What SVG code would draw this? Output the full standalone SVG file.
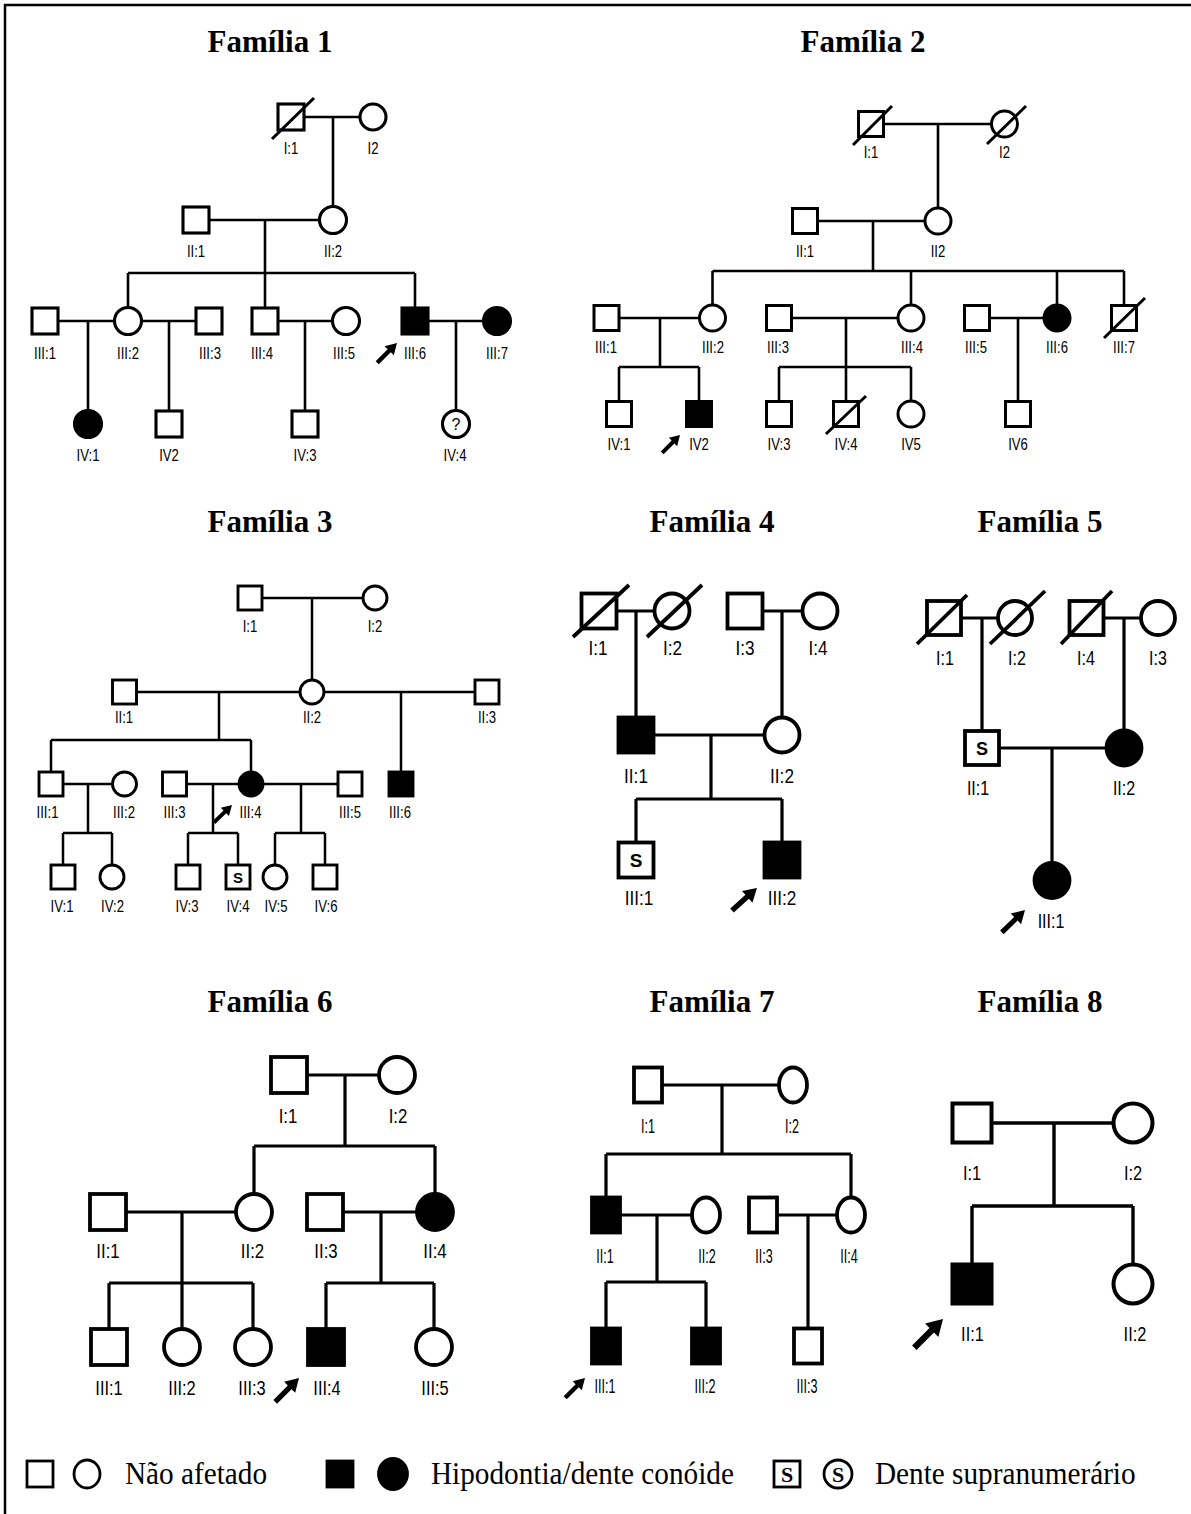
<svg xmlns="http://www.w3.org/2000/svg" width="1191" height="1514" viewBox="0 0 1191 1514">
<defs>
<style>
  .nd{fill:#fff;stroke:#000}
  .af{fill:#000;stroke:#000}
  .dl{stroke:#000;fill:none}
  #connectors path{fill:none;stroke:#000}
  .t{font-family:"Liberation Serif","Times New Roman",serif;font-weight:bold;font-size:31px;text-anchor:middle;fill:#000}
  .lb{font-family:"Liberation Sans",Arial,sans-serif;text-anchor:middle;fill:#000}
  .a{font-size:16px}
  .b{font-size:19.5px}
  .c{font-size:20px}
  .d{font-size:21px}
  .mk{font-family:"Liberation Sans",Arial,sans-serif;font-weight:bold;text-anchor:middle;fill:#000}
  .lg{font-family:"Liberation Serif","Times New Roman",serif;font-size:32.5px;fill:#000}
  .ls{font-family:"Liberation Serif","Times New Roman",serif;font-weight:bold;font-size:22px;text-anchor:middle;fill:#000}
</style>
<path id="arw" d="M0,0 L-11,-6.5 L-11,-2.2 L-28,-2.2 L-28,2.2 L-11,2.2 L-11,6.5 Z" fill="#000"/>
</defs>
<rect width="1191" height="1514" fill="#fff"/>
<!-- frame -->
<path d="M5,1514 V5 H1191" fill="none" stroke="#000" stroke-width="2.5"/>

<!-- titles -->
<g id="titles">
  <text class="t" x="270" y="52">Família 1</text>
  <text class="t" x="863" y="52">Família 2</text>
  <text class="t" x="270" y="532">Família 3</text>
  <text class="t" x="712" y="532">Família 4</text>
  <text class="t" x="1040" y="532">Família 5</text>
  <text class="t" x="270" y="1012">Família 6</text>
  <text class="t" x="712" y="1012">Família 7</text>
  <text class="t" x="1040" y="1012">Família 8</text>
</g>

<!-- connectors: marriage lines, descent lines, sibship bars -->
<g id="connectors">
  <path stroke-width="2.6" d="M304,117H360 M333,117V206.5 M209,220H319.5 M265,220V273 M128,273H415 M128,273V307.5 M265,273V308 M415,273V308 M58,321H114.5 M88,321V410.5 M141.5,321H196 M169,321V411 M278,321H332.5 M305,321V411 M428,321H483.5 M456,321V410.5"/>
  <path stroke-width="2.6" d="M883.5,124H991.5 M938,124V208 M817.5,221H925 M873,221V271 M712.5,271H1124 M712.5,271V305 M911,271V305 M1057,271V305 M1124,271V305.5 M619,318H699.5 M660,318V367 M619,367H699 M619,367V401.5 M699,367V401.5 M791.5,318H898 M846,318V401.5 M779,367H911 M779,367V401.5 M911,367V401 M989.5,318H1044 M1018,318V401.5"/>
  <path stroke-width="2.5" d="M262,598H363 M312,598V680 M136.5,692H300 M219,692V740 M324,692H475 M401,692V772 M51,740H251 M51,740V772 M251,740V772 M63,784H112.5 M88,784V833 M63,833H112 M63,833V865 M112,833V865 M186.5,784H239 M213,784V833 M188,833H238 M188,833V865 M238,833V865 M263,784H338 M301,784V833 M275,833H325 M275,833V865 M325,833V865"/>
  <path stroke-width="3.2" d="M616.5,611H654.5 M636,611V717.5 M762.5,611H802.5 M782,611V717.5 M653.5,735H764.5 M711,735V799 M636,799H782 M636,799V842.5 M782,799V842.5"/>
  <path stroke-width="3.2" d="M961,618H998 M982,618V731 M1103.5,618H1141 M1124,618V730.5 M999,748H1106.5 M1052,748V863"/>
  <path stroke-width="3.2" d="M307,1075H379 M345,1075V1146 M254,1146H435 M254,1146V1194 M435,1146V1194 M126,1212H236 M182,1212V1329 M109,1283H253 M109,1283V1329 M253,1283V1329 M343,1212H417 M381,1212V1283 M326,1283H434 M326,1283V1329 M434,1283V1329"/>
  <path stroke-width="3.2" d="M662,1085H779 M722,1085V1154 M606,1154H851 M606,1154V1197.5 M851,1154V1197.5 M620,1215H692 M657,1215V1282 M606,1282H706 M606,1282V1328.5 M706,1282V1328.5 M777,1215H837 M808,1215V1328.5"/>
  <path stroke-width="3.4" d="M991.5,1123H1113.5 M1054,1123V1206 M972,1206H1133 M972,1206V1264.5 M1133,1206V1264.5"/>
</g>

<!-- Família 1 -->
<g id="fam1" stroke-width="3.1">
  <g id="f1-I1"><rect class="nd" x="278" y="104" width="26" height="26"/><line class="dl" x1="272" y1="139" x2="314" y2="98"/><text class="lb a" transform="translate(291 154) scale(.82 1)">I:1</text></g>
  <g id="f1-I2"><circle class="nd" cx="373" cy="117" r="13"/><text class="lb a" transform="translate(373 154) scale(.82 1)">I2</text></g>
  <g id="f1-II1"><rect class="nd" x="183" y="207" width="26" height="26"/><text class="lb a" transform="translate(196 257) scale(.82 1)">II:1</text></g>
  <g id="f1-II2"><circle class="nd" cx="333" cy="220" r="13.5"/><text class="lb a" transform="translate(333 257) scale(.82 1)">II:2</text></g>
  <g id="f1-III1"><rect class="nd" x="32" y="308" width="26" height="26"/><text class="lb a" transform="translate(45 359) scale(.82 1)">III:1</text></g>
  <g id="f1-III2"><circle class="nd" cx="128" cy="321" r="13.5"/><text class="lb a" transform="translate(128 359) scale(.82 1)">III:2</text></g>
  <g id="f1-III3"><rect class="nd" x="196" y="308" width="26" height="26"/><text class="lb a" transform="translate(210 359) scale(.82 1)">III:3</text></g>
  <g id="f1-III4"><rect class="nd" x="252" y="308" width="26" height="26"/><text class="lb a" transform="translate(262 359) scale(.82 1)">III:4</text></g>
  <g id="f1-III5"><circle class="nd" cx="346" cy="321" r="13.5"/><text class="lb a" transform="translate(344 359) scale(.82 1)">III:5</text></g>
  <g id="f1-III6"><rect class="af" x="402" y="308" width="26" height="26"/><text class="lb a" transform="translate(415 359) scale(.82 1)">III:6</text><use href="#arw" transform="translate(397 343) rotate(-45)"/></g>
  <g id="f1-III7"><circle class="af" cx="497" cy="321" r="13.5"/><text class="lb a" transform="translate(497 359) scale(.82 1)">III:7</text></g>
  <g id="f1-IV1"><circle class="af" cx="88" cy="424" r="13.5"/><text class="lb a" transform="translate(88 461) scale(.82 1)">IV:1</text></g>
  <g id="f1-IV2"><rect class="nd" x="156" y="411" width="26" height="26"/><text class="lb a" transform="translate(169 461) scale(.82 1)">IV2</text></g>
  <g id="f1-IV3"><rect class="nd" x="292" y="411" width="26" height="26"/><text class="lb a" transform="translate(305 461) scale(.82 1)">IV:3</text></g>
  <g id="f1-IV4"><circle class="nd" cx="456" cy="424" r="13.5"/><text class="lb" x="456" y="430" font-size="16">?</text><text class="lb a" transform="translate(455 461) scale(.82 1)">IV:4</text></g>
</g>

<!-- Família 2 -->
<g id="fam2" stroke-width="3">
  <g id="f2-I1"><rect class="nd" x="858.5" y="111.5" width="25" height="25"/><line class="dl" x1="853" y1="145" x2="892" y2="106"/><text class="lb a" transform="translate(871 158) scale(.82 1)">I:1</text></g>
  <g id="f2-I2"><circle class="nd" cx="1004.5" cy="124" r="13"/><line class="dl" x1="987" y1="144" x2="1026" y2="106"/><text class="lb a" transform="translate(1004.5 158) scale(.82 1)">I2</text></g>
  <g id="f2-II1"><rect class="nd" x="792.5" y="208.5" width="25" height="25"/><text class="lb a" transform="translate(805 257) scale(.82 1)">II:1</text></g>
  <g id="f2-II2"><circle class="nd" cx="938" cy="221" r="13"/><text class="lb a" transform="translate(938 257) scale(.82 1)">II2</text></g>
  <g id="f2-III1"><rect class="nd" x="594" y="305.5" width="25" height="25"/><text class="lb a" transform="translate(606 353) scale(.82 1)">III:1</text></g>
  <g id="f2-III2"><circle class="nd" cx="712.5" cy="318" r="13"/><text class="lb a" transform="translate(713 353) scale(.82 1)">III:2</text></g>
  <g id="f2-III3"><rect class="nd" x="766.5" y="305.5" width="25" height="25"/><text class="lb a" transform="translate(778 353) scale(.82 1)">III:3</text></g>
  <g id="f2-III4"><circle class="nd" cx="911" cy="318" r="13"/><text class="lb a" transform="translate(912 353) scale(.82 1)">III:4</text></g>
  <g id="f2-III5"><rect class="nd" x="964.5" y="305.5" width="25" height="25"/><text class="lb a" transform="translate(976 353) scale(.82 1)">III:5</text></g>
  <g id="f2-III6"><circle class="af" cx="1057" cy="318" r="13"/><text class="lb a" transform="translate(1057 353) scale(.82 1)">III:6</text></g>
  <g id="f2-III7"><rect class="nd" x="1111.5" y="305.5" width="25" height="25"/><line class="dl" x1="1104" y1="338" x2="1145" y2="298"/><text class="lb a" transform="translate(1124 353) scale(.82 1)">III:7</text></g>
  <g id="f2-IV1"><rect class="nd" x="606.5" y="401.5" width="25" height="25"/><text class="lb a" transform="translate(619 450) scale(.82 1)">IV:1</text></g>
  <g id="f2-IV2"><rect class="af" x="686.5" y="401.5" width="25" height="25"/><text class="lb a" transform="translate(699 450) scale(.82 1)">IV2</text><use href="#arw" transform="translate(680 435) rotate(-45) scale(.9)"/></g>
  <g id="f2-IV3"><rect class="nd" x="766.5" y="401.5" width="25" height="25"/><text class="lb a" transform="translate(779 450) scale(.82 1)">IV:3</text></g>
  <g id="f2-IV4"><rect class="nd" x="833.5" y="401.5" width="25" height="25"/><line class="dl" x1="826" y1="434" x2="866" y2="396"/><text class="lb a" transform="translate(846 450) scale(.82 1)">IV:4</text></g>
  <g id="f2-IV5"><circle class="nd" cx="911" cy="414" r="13"/><text class="lb a" transform="translate(911 450) scale(.82 1)">IV5</text></g>
  <g id="f2-IV6"><rect class="nd" x="1005.5" y="401.5" width="25" height="25"/><text class="lb a" transform="translate(1018 450) scale(.82 1)">IV6</text></g>
</g>

<!-- Família 3 -->
<g id="fam3" stroke-width="2.9">
  <g id="f3-I1"><rect class="nd" x="238" y="586" width="24" height="24"/><text class="lb a" transform="translate(250 632) scale(.82 1)">I:1</text></g>
  <g id="f3-I2"><circle class="nd" cx="375" cy="598" r="12"/><text class="lb a" transform="translate(375 632) scale(.82 1)">I:2</text></g>
  <g id="f3-II1"><rect class="nd" x="112.5" y="680" width="24" height="24"/><text class="lb a" transform="translate(124 723) scale(.82 1)">II:1</text></g>
  <g id="f3-II2"><circle class="nd" cx="312" cy="692" r="12"/><text class="lb a" transform="translate(312 723) scale(.82 1)">II:2</text></g>
  <g id="f3-II3"><rect class="nd" x="475" y="680" width="24" height="24"/><text class="lb a" transform="translate(487 723) scale(.82 1)">II:3</text></g>
  <g id="f3-III1"><rect class="nd" x="39" y="772" width="24" height="24"/><text class="lb a" transform="translate(47.5 818) scale(.82 1)">III:1</text></g>
  <g id="f3-III2"><circle class="nd" cx="124.5" cy="784" r="12"/><text class="lb a" transform="translate(124 818) scale(.82 1)">III:2</text></g>
  <g id="f3-III3"><rect class="nd" x="162.5" y="772" width="24" height="24"/><text class="lb a" transform="translate(174.5 818) scale(.82 1)">III:3</text></g>
  <g id="f3-III4"><circle class="af" cx="251" cy="784" r="12"/><text class="lb a" transform="translate(250.5 818) scale(.82 1)">III:4</text><use href="#arw" transform="translate(232 805) rotate(-44) scale(.9)"/></g>
  <g id="f3-III5"><rect class="nd" x="338" y="772" width="24" height="24"/><text class="lb a" transform="translate(350 818) scale(.82 1)">III:5</text></g>
  <g id="f3-III6"><rect class="af" x="389" y="772" width="24" height="24"/><text class="lb a" transform="translate(400 818) scale(.82 1)">III:6</text></g>
  <g id="f3-IV1"><rect class="nd" x="51" y="865" width="24" height="24"/><text class="lb a" transform="translate(62 912) scale(.82 1)">IV:1</text></g>
  <g id="f3-IV2"><circle class="nd" cx="112" cy="877" r="12"/><text class="lb a" transform="translate(112.5 912) scale(.82 1)">IV:2</text></g>
  <g id="f3-IV3"><rect class="nd" x="176" y="865" width="24" height="24"/><text class="lb a" transform="translate(187 912) scale(.82 1)">IV:3</text></g>
  <g id="f3-IV4"><rect class="nd" x="226" y="865" width="24" height="24"/><text class="mk" x="238" y="882.5" font-size="15">S</text><text class="lb a" transform="translate(238 912) scale(.82 1)">IV:4</text></g>
  <g id="f3-IV5"><circle class="nd" cx="275" cy="877" r="12"/><text class="lb a" transform="translate(276 912) scale(.82 1)">IV:5</text></g>
  <g id="f3-IV6"><rect class="nd" x="313" y="865" width="24" height="24"/><text class="lb a" transform="translate(326 912) scale(.82 1)">IV:6</text></g>
</g>

<!-- Família 4 -->
<g id="fam4" stroke-width="3.8">
  <g id="f4-I1"><rect class="nd" x="581.5" y="593.5" width="35" height="35"/><line class="dl" x1="573" y1="637" x2="629" y2="585"/><text class="lb b" transform="translate(598 655) scale(.88 1)">I:1</text></g>
  <g id="f4-I2"><circle class="nd" cx="672" cy="611" r="17.5"/><line class="dl" x1="647" y1="637" x2="702" y2="585"/><text class="lb b" transform="translate(672.5 655) scale(.88 1)">I:2</text></g>
  <g id="f4-I3"><rect class="nd" x="727.5" y="593.5" width="35" height="35"/><text class="lb b" transform="translate(745 655) scale(.88 1)">I:3</text></g>
  <g id="f4-I4"><circle class="nd" cx="820" cy="611" r="17.5"/><text class="lb b" transform="translate(818 655) scale(.88 1)">I:4</text></g>
  <g id="f4-II1"><rect class="af" x="618.5" y="717.5" width="35" height="35"/><text class="lb b" transform="translate(636 783) scale(.88 1)">II:1</text></g>
  <g id="f4-II2"><circle class="nd" cx="782" cy="735" r="17.5"/><text class="lb b" transform="translate(782 783) scale(.88 1)">II:2</text></g>
  <g id="f4-III1"><rect class="nd" x="618.5" y="842.5" width="35" height="35"/><text class="mk" x="636" y="867" font-size="19">S</text><text class="lb b" transform="translate(639 905) scale(.88 1)">III:1</text></g>
  <g id="f4-III2"><rect class="af" x="764.5" y="842.5" width="35" height="35"/><text class="lb b" transform="translate(782 905) scale(.88 1)">III:2</text><use href="#arw" transform="translate(757 888) rotate(-42) scale(1.2)"/></g>
</g>

<!-- Família 5 -->
<g id="fam5" stroke-width="3.8">
  <g id="f5-I1"><rect class="nd" x="927" y="601" width="34" height="34"/><line class="dl" x1="917" y1="644" x2="967" y2="595"/><text class="lb c" transform="translate(945 665) scale(.8 1)">I:1</text></g>
  <g id="f5-I2"><circle class="nd" cx="1015" cy="618" r="17"/><line class="dl" x1="990" y1="644" x2="1045" y2="591"/><text class="lb c" transform="translate(1017 665) scale(.8 1)">I:2</text></g>
  <g id="f5-I4"><rect class="nd" x="1069.5" y="601" width="34" height="34"/><line class="dl" x1="1061" y1="644" x2="1112" y2="591"/><text class="lb c" transform="translate(1086 665) scale(.8 1)">I:4</text></g>
  <g id="f5-I3"><circle class="nd" cx="1158" cy="618" r="17"/><text class="lb c" transform="translate(1158 665) scale(.8 1)">I:3</text></g>
  <g id="f5-II1"><rect class="nd" x="965" y="731" width="34" height="34"/><text class="mk" x="982" y="755" font-size="18">S</text><text class="lb c" transform="translate(978 795) scale(.8 1)">II:1</text></g>
  <g id="f5-II2"><circle class="af" cx="1124" cy="748" r="17.5"/><text class="lb c" transform="translate(1124 795) scale(.8 1)">II:2</text></g>
  <g id="f5-III1"><circle class="af" cx="1052" cy="880.5" r="17.5"/><text class="lb c" transform="translate(1051 928) scale(.8 1)">III:1</text><use href="#arw" transform="translate(1025 910) rotate(-44) scale(1.15)"/></g>
</g>

<!-- Família 6 -->
<g id="fam6" stroke-width="3.8">
  <g id="f6-I1"><rect class="nd" x="271" y="1057" width="36" height="36"/><text class="lb d" transform="translate(288 1123) scale(.8 1)">I:1</text></g>
  <g id="f6-I2"><circle class="nd" cx="397" cy="1075" r="18"/><text class="lb d" transform="translate(398 1123) scale(.8 1)">I:2</text></g>
  <g id="f6-II1"><rect class="nd" x="90" y="1194" width="36" height="36"/><text class="lb d" transform="translate(108 1258) scale(.8 1)">II:1</text></g>
  <g id="f6-II2"><circle class="nd" cx="254" cy="1212" r="18"/><text class="lb d" transform="translate(252.5 1258) scale(.8 1)">II:2</text></g>
  <g id="f6-II3"><rect class="nd" x="307" y="1194" width="36" height="36"/><text class="lb d" transform="translate(326 1258) scale(.8 1)">II:3</text></g>
  <g id="f6-II4"><circle class="af" cx="435" cy="1212" r="18"/><text class="lb d" transform="translate(435 1258) scale(.8 1)">II:4</text></g>
  <g id="f6-III1"><rect class="nd" x="91" y="1329" width="36" height="36"/><text class="lb d" transform="translate(109 1395) scale(.78 1)">III:1</text></g>
  <g id="f6-III2"><circle class="nd" cx="182" cy="1347" r="18"/><text class="lb d" transform="translate(182 1395) scale(.78 1)">III:2</text></g>
  <g id="f6-III3"><circle class="nd" cx="253" cy="1347" r="18"/><text class="lb d" transform="translate(252 1395) scale(.78 1)">III:3</text></g>
  <g id="f6-III4"><rect class="af" x="308" y="1329" width="36" height="36"/><text class="lb d" transform="translate(327 1395) scale(.78 1)">III:4</text><use href="#arw" transform="translate(299 1378) rotate(-45) scale(1.2)"/></g>
  <g id="f6-III5"><circle class="nd" cx="434" cy="1347" r="18"/><text class="lb d" transform="translate(435 1395) scale(.78 1)">III:5</text></g>
</g>

<!-- Família 7 -->
<g id="fam7" stroke-width="3.8">
  <g id="f7-I1"><rect class="nd" x="634" y="1067.5" width="28" height="35"/><text class="lb d" transform="translate(648 1133) scale(.6 1)">I:1</text></g>
  <g id="f7-I2"><ellipse class="nd" cx="793" cy="1085" rx="14" ry="17.5"/><text class="lb d" transform="translate(792 1133) scale(.6 1)">I:2</text></g>
  <g id="f7-II1"><rect class="af" x="592" y="1197.5" width="28" height="35"/><text class="lb d" transform="translate(605 1263) scale(.6 1)">II:1</text></g>
  <g id="f7-II2"><ellipse class="nd" cx="706" cy="1215" rx="14" ry="17.5"/><text class="lb d" transform="translate(707 1263) scale(.6 1)">II:2</text></g>
  <g id="f7-II3"><rect class="nd" x="749" y="1197.5" width="28" height="35"/><text class="lb d" transform="translate(764 1263) scale(.6 1)">II:3</text></g>
  <g id="f7-II4"><ellipse class="nd" cx="851" cy="1215" rx="14" ry="17.5"/><text class="lb d" transform="translate(849 1263) scale(.6 1)">II:4</text></g>
  <g id="f7-III1"><rect class="af" x="592" y="1328.5" width="28" height="35"/><text class="lb d" transform="translate(605 1393) scale(.6 1)">III:1</text><use href="#arw" transform="translate(585 1378) rotate(-45)"/></g>
  <g id="f7-III2"><rect class="af" x="692" y="1328.5" width="28" height="35"/><text class="lb d" transform="translate(705 1393) scale(.6 1)">III:2</text></g>
  <g id="f7-III3"><rect class="nd" x="794" y="1328.5" width="28" height="35"/><text class="lb d" transform="translate(807 1393) scale(.6 1)">III:3</text></g>
</g>

<!-- Família 8 -->
<g id="fam8" stroke-width="4">
  <g id="f8-I1"><rect class="nd" x="952.5" y="1103.5" width="39" height="39"/><text class="lb d" transform="translate(972 1180) scale(.78 1)">I:1</text></g>
  <g id="f8-I2"><circle class="nd" cx="1133" cy="1123" r="19.5"/><text class="lb d" transform="translate(1133 1180) scale(.78 1)">I:2</text></g>
  <g id="f8-II1"><rect class="af" x="952.5" y="1264.5" width="39" height="39"/><text class="lb d" transform="translate(972.5 1341) scale(.78 1)">II:1</text><use href="#arw" transform="translate(943 1319) rotate(-45) scale(1.45)"/></g>
  <g id="f8-II2"><circle class="nd" cx="1133" cy="1284" r="19.5"/><text class="lb d" transform="translate(1135 1341) scale(.78 1)">II:2</text></g>
</g>

<!-- legend -->
<g id="legend" stroke-width="2.8">
  <rect class="nd" x="27" y="1461" width="26" height="26"/>
  <ellipse class="nd" cx="87" cy="1474" rx="13" ry="14"/>
  <text class="lg" transform="translate(125 1484) scale(.9 1)">Não afetado</text>
  <rect class="af" x="327" y="1461" width="26" height="26"/>
  <ellipse class="af" cx="393" cy="1474" rx="14.5" ry="15.5"/>
  <text class="lg" transform="translate(431 1484) scale(.9 1)">Hipodontia/dente conóide</text>
  <rect class="nd" x="774" y="1461" width="26" height="26"/>
  <text class="ls" x="787" y="1482">S</text>
  <circle class="nd" cx="838" cy="1474" r="14"/>
  <text class="ls" x="838" y="1482">S</text>
  <text class="lg" transform="translate(875 1484) scale(.9 1)">Dente supranumerário</text>
</g>
</svg>
